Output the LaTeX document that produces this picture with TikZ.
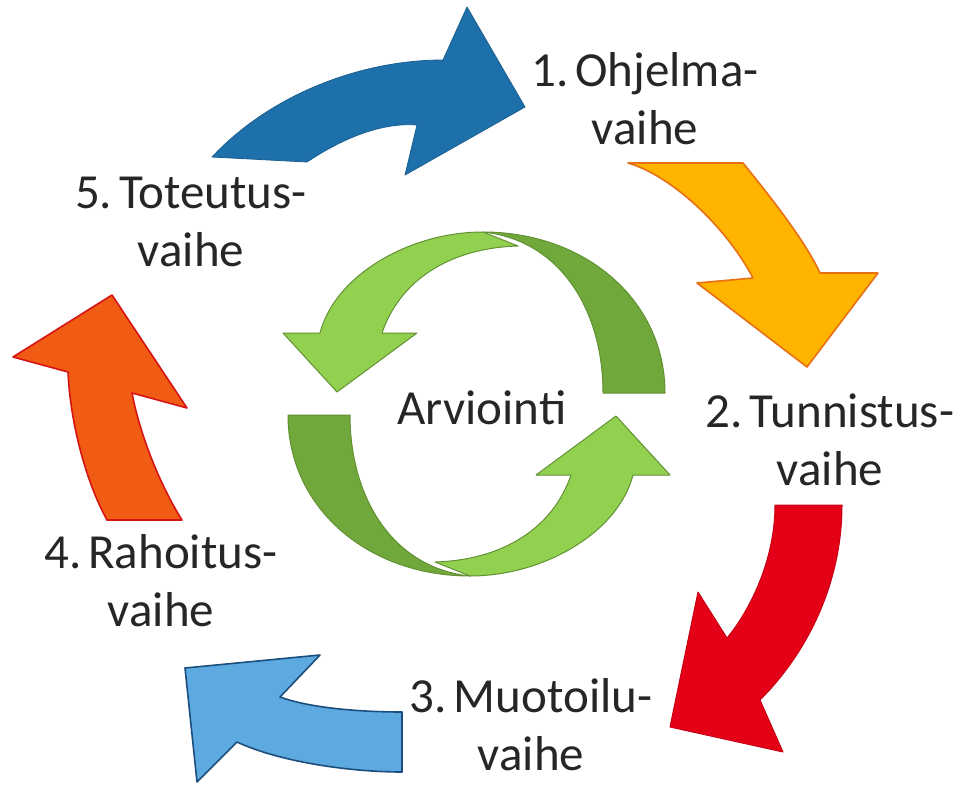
\documentclass[tikz,border=0pt]{standalone}
\usepackage{fontspec}
\setmainfont{Carlito}
\newcommand{\nsp}{\hspace{0.14em}}
\begin{document}
\begin{tikzpicture}[x=1pt,y=-1pt,
  lbl/.style={align=center,inner sep=0pt,text=black!85,font=\fontsize{49}{58}\selectfont}]
\definecolor{blueA}{RGB}{30,112,170}
\definecolor{yellowA}{RGB}{255,180,0}
\definecolor{yellowE}{RGB}{232,112,20}
\definecolor{redA}{RGB}{228,0,22}
\definecolor{redE}{RGB}{200,0,20}
\definecolor{blueB}{RGB}{92,170,224}
\definecolor{blueE}{RGB}{28,78,125}
\definecolor{orangeA}{RGB}{240,92,20}
\definecolor{orangeE}{RGB}{215,20,20}
\definecolor{greenD}{RGB}{112,168,60}
\definecolor{greenL}{RGB}{146,208,80}
\definecolor{greenE}{RGB}{98,145,52}
\useasboundingbox (0,0) rectangle (963,786);
\fill[white] (0,0) rectangle (963,786);

% phase arrows around the cycle
% 5 -> 1
\filldraw[fill=blueA,draw=blueA!85!black,line width=0.8pt,line join=round]
  (212,157) .. controls (270,95) and (360,60) .. (443,60) -- (467,7) -- (525,107)
  -- (405,175) -- (417,125) .. controls (380,122) and (340,140) .. (307,162) -- cycle;
% 1 -> 2
\filldraw[fill=yellowA,draw=yellowE,line width=1.6pt,line join=round]
  (628,163) -- (743,163) .. controls (765,190) and (805,240) .. (820,273) -- (878,273)
  -- (807,367) -- (697,283) -- (753,278) .. controls (725,225) and (670,175) .. (628,163) -- cycle;
% 2 -> 3
\filldraw[fill=redA,draw=redE,line width=1pt,line join=round]
  (775,505) -- (842,505) .. controls (842,580) and (810,650) .. (760,700) -- (783,752)
  -- (670,727) -- (698,592) -- (727,638) .. controls (750,610) and (775,560) .. (775,505) -- cycle;
% 3 -> 4
\filldraw[fill=blueB,draw=blueE,line width=1.6pt,line join=round]
  (185,668) -- (320,655) -- (280,697) .. controls (310,708) and (360,712) .. (402,712)
  -- (402,772) .. controls (350,772) and (280,762) .. (237,742) -- (197,782) -- cycle;
% 4 -> 5
\filldraw[fill=orangeA,draw=orangeE,line width=1.6pt,line join=round]
  (112,295) -- (187,408) -- (132,393) .. controls (140,435) and (160,485) .. (182,520)
  -- (107,520) .. controls (85,480) and (70,420) .. (68,372) -- (13,357) -- cycle;

% central evaluation loop: two twisted half-ring arrows
\foreach \ang in {0,180}{
  \begin{scope}[rotate around={\ang:(476.5,404)}]
    \filldraw[fill=greenD,draw=greenE,line width=1pt,line join=round]
      (665,393) .. controls (665,300) and (585,232) .. (483,232)
      .. controls (560,240) and (603,310) .. (603,393) -- cycle;
    \filldraw[fill=greenL,draw=greenE,line width=1pt,line join=round]
      (483,232) .. controls (410,232) and (335,275) .. (320,333) -- (283,333)
      -- (337,392) -- (417,333) -- (382,333)
      .. controls (400,280) and (450,248) .. (518,246) -- cycle;
  \end{scope}
}

% labels
\node[lbl] (p1) at (645,98.5) {1.\nsp Ohjelma-\\vaihe};
\node[lbl] (p2) at (830,439.5) {2.\nsp Tunnistus-\\vaihe};
\node[lbl] (p3) at (531,724.5) {3.\nsp Muotoilu-\\vaihe};
\node[lbl] (p4) at (161,580.5) {4.\nsp Rahoitus-\\vaihe};
\node[lbl] (p5) at (191,221.5) {5.\nsp Toteutus-\\vaihe};
\node[lbl] (ev) at (482,408) {Arviointi};
\end{tikzpicture}
\end{document}
